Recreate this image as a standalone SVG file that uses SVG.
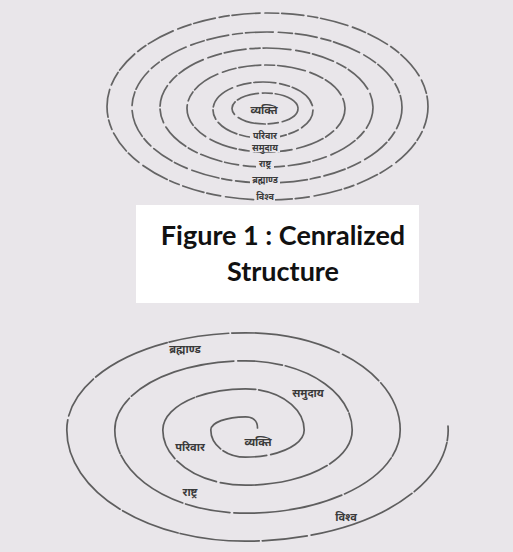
<svg xmlns="http://www.w3.org/2000/svg" width="513" height="552" viewBox="0 0 513 552">
<style>
.ring{fill:none;stroke:#4c4c4c;stroke-width:1.7;stroke-dasharray:22 4 10 3 28 5 14 3;stroke-linecap:round;opacity:.85}
.sp{fill:none;stroke:#454545;stroke-width:1.7;stroke-dasharray:80 3 45 4 110 3 60 2;stroke-linecap:round;opacity:.85}
.hi{font-family:"Noto Sans","Noto Sans Devanagari","Lohit Devanagari",sans-serif;font-weight:bold;fill:#3a3a3a;text-anchor:middle}
.s9{font-size:9px}
.s11{font-size:11px}
.bg{fill:#e9e6ea}
.ttl{font-family:Lato,"Liberation Sans",sans-serif;font-weight:bold;font-size:27px;fill:#111;text-anchor:middle}
</style>
<rect width="513" height="552" fill="#e9e6ea"/>
<g id="concentric">
<ellipse class="ring" cx="265" cy="108.5" rx="33" ry="15.5"/>
<ellipse class="ring" cx="263" cy="110" rx="50" ry="28"/>
<ellipse class="ring" cx="266" cy="108.5" rx="79" ry="43.5"/>
<ellipse class="ring" cx="266.5" cy="107.5" rx="106.5" ry="59.5"/>
<ellipse class="ring" cx="267" cy="107.5" rx="135" ry="75.5"/>
<ellipse class="ring" cx="267.5" cy="106.5" rx="160.5" ry="93.5"/>
</g>
<g id="top-labels">
<g id="t1"><text class="hi s11" x="264" y="114">व्यक्ति</text></g>
<g id="t2"><rect class="bg" x="250" y="131" width="30" height="9"/><text class="hi s9" x="265" y="139">परिवार</text></g>
<g id="t3"><rect class="bg" x="250" y="143" width="30" height="9"/><text class="hi s9" x="265" y="151">समुदाय</text></g>
<g id="t4"><rect class="bg" x="256" y="159" width="18" height="9"/><text class="hi s9" x="265" y="167">राष्ट्र</text></g>
<g id="t5"><rect class="bg" x="250" y="175" width="30" height="9"/><text class="hi s9" x="265" y="183">ब्रह्माण्ड</text></g>
<g id="t6"><rect class="bg" x="255" y="192" width="20" height="9"/><text class="hi s9" x="265" y="200">विश्व</text></g>
</g>
<g id="caption">
<rect x="136" y="205" width="283" height="98" fill="#ffffff"/>
<text class="ttl" x="283" y="245">Figure 1 : Cenralized</text>
<text class="ttl" x="283" y="281">Structure</text>
</g>
<g id="spiral">
<path class="sp" d="M257.5,428 C257.5,420 252,416.8 245.5,416.8 A34.7,13.2 0 0 0 210.8,430 A34.7,27.2 0 0 0 245.5,457.2 A58.7,27.2 0 0 0 304.2,430 A58.7,41.2 0 0 0 245.5,388.8 A82.7,41.2 0 0 0 162.8,430 A82.7,55.2 0 0 0 245.5,485.2 A106.7,55.2 0 0 0 352.2,430 A106.7,69.2 0 0 0 245.5,360.8 A130.7,69.2 0 0 0 114.8,430 A130.7,83.2 0 0 0 245.5,513.2 A154.7,83.2 0 0 0 400.2,430 A154.7,97.2 0 0 0 245.5,332.8 A178.7,97.2 0 0 0 66.8,430 A178.7,111.2 0 0 0 245.5,541.2 A202.7,111.2 0 0 0 448.2,430 L448,426"/>
</g>
<g id="spiral-labels">
<g id="s1"><text class="hi s11" x="258" y="446">व्यक्ति</text></g>
<g id="s2"><text class="hi s11" x="190" y="451">परिवार</text></g>
<g id="s3"><text class="hi s11" x="308" y="397">समुदाय</text></g>
<g id="s4"><text class="hi s11" x="190" y="496">राष्ट्र</text></g>
<g id="s5"><text class="hi s11" x="346" y="521">विश्व</text></g>
<g id="s6"><text class="hi s11" x="185" y="353">ब्रह्माण्ड</text></g>
</g>
</svg>
